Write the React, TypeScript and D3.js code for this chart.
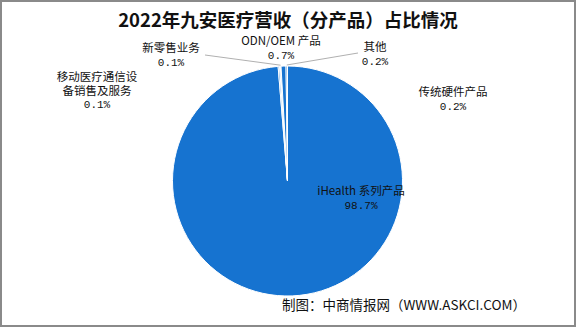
import React from "react";
import * as d3 from "d3";

const categories = ["iHealth 系列产品", "传统硬件产品", "移动医疗通信设备销售及服务", "新零售业务", "ODN/OEM 产品", "其他"];
const values = [98.7, 0.2, 0.1, 0.1, 0.7, 0.2];
const labelLines = [["iHealth 系列产品"], ["传统硬件产品"], ["移动医疗通信设", "备销售及服务"], ["新零售业务"], ["ODN/OEM 产品"], ["其他"]];

// label layout (text anchor points), separate from data
const labelPos: [number, number][] = [[361, 191], [453, 92], [97, 77], [171, 48], [281, 41], [375, 47]];
const leaderEnds: ([number, number][] | null)[] = [null, null, null, [[205, 55]], null, [[352, 54], [358, 53]]];

const W = 576, H = 327;
const cx = 287.5, cy = 181, R = 115;
const BLUE = "#1673D0";

export default function App() {
  const pie = d3.pie<number>().sort(null).startAngle(0).endAngle(2 * Math.PI);
  const arcs = pie(values);
  const arcGen = d3.arc<d3.PieArcDatum<number>>().innerRadius(0).outerRadius(R);
  const font = "'Noto Sans CJK SC', 'Noto Sans', sans-serif";
  const mono = "'Liberation Mono', 'DejaVu Sans Mono', monospace";
  return (
    <svg width={W} height={H} style={{ position: "absolute", left: 0, top: 0, background: "#fff" }}>
      <rect x={1} y={1} width={W - 2} height={H - 2} fill="#fff" stroke="#8a8a8a" strokeWidth={2} />
      <text x={288} y={27} textAnchor="middle" fontSize={18.5} fontWeight="bold" fontFamily={font} fill="#111">
        2022年九安医疗营收（分产品）占比情况
      </text>
      <g transform={`translate(${cx},${cy})`}>
        {arcs.map((a, i) => (
          <path key={i} d={arcGen(a) || ""} fill={BLUE} stroke="#fff" strokeWidth={1} />
        ))}
      </g>
      {arcs.map((a, i) => {
        const ends = leaderEnds[i];
        if (!ends) return null;
        const mid = (a.startAngle + a.endAngle) / 2;
        const sx = cx + Math.sin(mid) * (R + 1);
        const sy = cy - Math.cos(mid) * (R + 1);
        const pts: [number, number][] = [[sx, sy], ...ends];
        return <path key={"l" + i} d={d3.line()(pts) || ""} fill="none" stroke="#b0b0b0" strokeWidth={1} />;
      })}
      {categories.map((c, i) => {
        const [x, y] = labelPos[i];
        const lines = labelLines[i];
        return (
          <g key={"t" + i}>
            {lines.map((ln, j) => (
              <text key={j} x={x} y={y + 4 + j * 13.5} textAnchor="middle" fontSize={11.5} fontFamily={font} fill="#111">{ln}</text>
            ))}
            <text x={x} y={y + 4 + lines.length * 13.5} textAnchor="middle" fontSize={11} fontFamily={mono} fill="#111">
              {values[i].toFixed(1)}%
            </text>
          </g>
        );
      })}
      <text x={404} y={310} textAnchor="middle" fontSize={13.5} fontFamily={font} fill="#111">
        制图：中商情报网（WWW.ASKCI.COM）
      </text>
    </svg>
  );
}
